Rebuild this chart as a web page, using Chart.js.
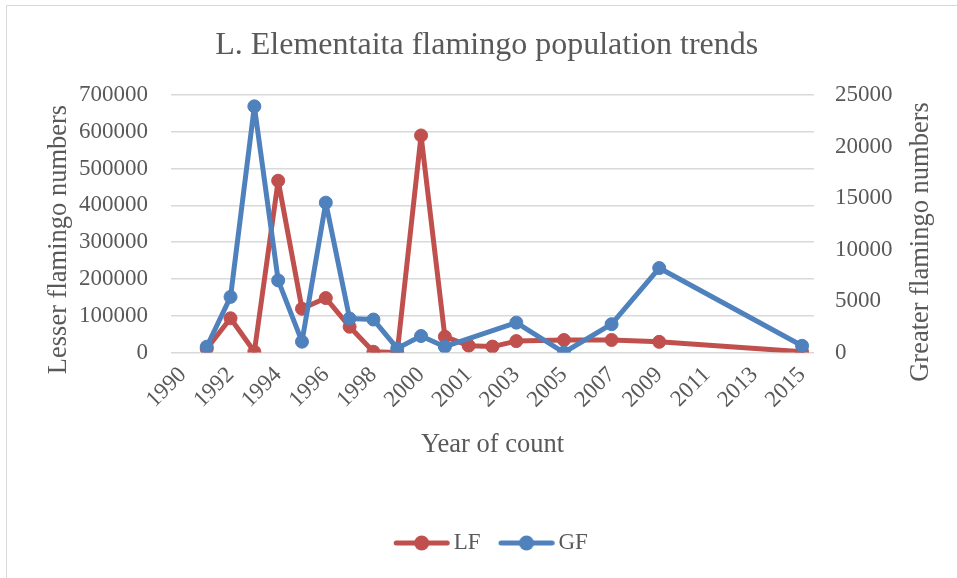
<!DOCTYPE html>
<html>
<head>
<meta charset="utf-8">
<script src="https://cdn.jsdelivr.net/npm/chart.js@4/dist/chart.umd.min.js"></script>
<style>
html,body{margin:0;padding:0;background:#fff;}
#wrap{width:957px;height:578px;position:relative;}
canvas{display:block;}
</style>
</head>
<body>
<div id="wrap"><canvas id="c" width="957" height="578"></canvas></div>
<script>
// ---- data ----
const years = ['1990','1991','1992','1993','1994','1995','1996','1997','1998','1999','2000','2000','2001','2002','2003','2004','2005','2006','2007','2008','2009','2010','2011','2012','2013','2014','2015'];
const lfCounts = [null, 10000, 93000, 2000, 467000, 119000, 148000, 70000, 2000, 0, 590000, 43000, 18500, 16000, 31000, null, 34000, null, 34000, null, 29000, null, null, null, null, null, 2000];
const gfCounts = [null, 560, 5400, 23900, 7000, 1050, 14550, 3300, 3200, 400, 1600, 560, null, null, 2900, null, 0, null, 2750, null, 8200, null, null, null, null, null, 650];
const seriesNames = ['LF', 'GF'];
const leftAxisMax = 700000, leftAxisStep = 100000;
const rightAxisMax = 25000, rightAxisStep = 5000;
const chartTitle = 'L. Elementaita flamingo population trends';
const xTitle = 'Year of count';
const leftTitle = 'Lesser flamingo numbers';
const rightTitle = 'Greater flamingo numbers';

// ---- style ----
const FONT = "'Liberation Serif', 'Times New Roman', serif";
const GREY = '#595959';
const RED = '#C0504D';
const BLUE = '#4F81BD';
const GRID = '#d9d9d9';

function legendImage(color) {
  const c = document.createElement('canvas');
  c.width = 72; c.height = 16;
  const g = c.getContext('2d');
  g.strokeStyle = color; g.lineWidth = 5; g.lineCap = 'round';
  g.beginPath(); g.moveTo(18.25, 8); g.lineTo(69.25, 8); g.stroke();
  g.fillStyle = color;
  g.beginPath(); g.arc(43.75, 8, 7.5, 0, Math.PI * 2); g.fill();
  return c;
}
const legendImgs = [legendImage(RED), legendImage(BLUE)];

const frame = {
  id: 'frame',
  beforeDraw(chart) {
    const ctx = chart.ctx;
    ctx.save();
    ctx.fillStyle = '#fff';
    ctx.fillRect(0, 0, chart.width, chart.height);
    ctx.strokeStyle = GRID; ctx.lineWidth = 1;
    ctx.beginPath();
    ctx.moveTo(6.5, chart.height + 5);
    ctx.lineTo(6.5, 5.5);
    ctx.lineTo(chart.width + 5, 5.5);
    ctx.stroke();
    ctx.restore();
  }
};

const yTitles = {
  id: 'yTitles',
  afterDraw(chart) {
    const ctx = chart.ctx;
    ctx.save();
    ctx.fillStyle = GREY;
    ctx.font = '26.5px ' + FONT;
    ctx.textAlign = 'center';
    ctx.textBaseline = 'alphabetic';
    const put = (t, x, y) => {
      ctx.save(); ctx.translate(x, y); ctx.rotate(-Math.PI / 2);
      ctx.fillText(t, 0, 0); ctx.restore();
    };
    put(leftTitle, 66, 239.5);
    put(rightTitle, 928, 242);
    ctx.restore();
  }
};

const tickFont = { family: FONT, size: 23 };

new Chart(document.getElementById('c'), {
  type: 'line',
  data: {
    labels: years,
    datasets: [
      {
        label: seriesNames[0], data: lfCounts, yAxisID: 'y',
        borderColor: RED, backgroundColor: RED, pointBackgroundColor: RED, pointBorderColor: RED,
        borderWidth: 5, pointRadius: 6.5, pointBorderWidth: 1, spanGaps: true, tension: 0,
        borderCapStyle: 'round', borderJoinStyle: 'round', order: 2
      },
      {
        label: seriesNames[1], data: gfCounts, yAxisID: 'y1',
        borderColor: BLUE, backgroundColor: BLUE, pointBackgroundColor: BLUE, pointBorderColor: BLUE,
        borderWidth: 5, pointRadius: 6.5, pointBorderWidth: 1, spanGaps: true, tension: 0,
        borderCapStyle: 'round', borderJoinStyle: 'round', order: 1
      }
    ]
  },
  options: {
    responsive: false,
    animation: false,
    layout: { padding: { left: 16.5, right: 0, top: 0, bottom: 13.5 } },
    plugins: {
      title: {
        display: true, text: chartTitle, color: GREY,
        font: { family: FONT, size: 32, weight: 'normal' },
        padding: { top: 26, bottom: 30.6 }
      },
      legend: {
        position: 'bottom',
        labels: {
          font: { family: FONT, size: 23 }, color: GREY,
          usePointStyle: true, pointStyleWidth: 56.5, padding: 10,
          sort: (a, b) => a.datasetIndex - b.datasetIndex,
          generateLabels(chart) {
            const items = Chart.defaults.plugins.legend.labels.generateLabels(chart);
            items.forEach(it => { it.pointStyle = legendImgs[it.datasetIndex]; });
            return items;
          }
        }
      },
      tooltip: { enabled: false }
    },
    scales: {
      x: {
        type: 'category', offset: true,
        grid: { display: false, drawTicks: false },
        border: { display: false },
        ticks: {
          autoSkip: false, maxRotation: 45, minRotation: 45, padding: 9,
          font: tickFont, color: GREY,
          callback: function (v, i) { return i % 2 === 0 ? this.getLabelForValue(v) : ''; }
        },
        title: { display: true, text: xTitle, color: GREY, font: { family: FONT, size: 26.5 }, padding: { top: 0, bottom: 60.6 } },
        afterFit(s) { s.height = 169; }
      },
      y: {
        position: 'left', min: 0, max: leftAxisMax,
        ticks: { stepSize: leftAxisStep, padding: 23, font: tickFont, color: GREY, callback: v => String(v) },
        grid: { color: GRID, lineWidth: 1.5, drawTicks: false },
        border: { display: false },
        afterFit(s) { s.width = 154.5; }
      },
      y1: {
        position: 'right', min: 0, max: rightAxisMax,
        ticks: { stepSize: rightAxisStep, padding: 21, font: tickFont, color: GREY, callback: v => String(v) },
        grid: { display: false, drawTicks: false },
        border: { display: false },
        afterFit(s) { s.width = 143; }
      }
    }
  },
  plugins: [frame, yTitles]
});
</script>
</body>
</html>
